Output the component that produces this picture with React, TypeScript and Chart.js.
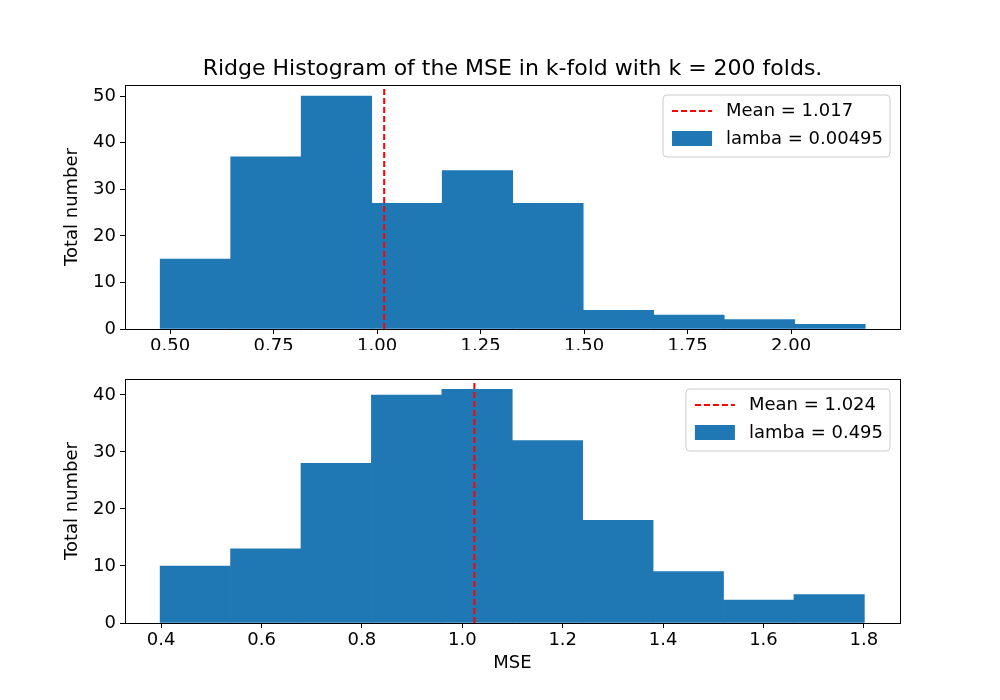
import { useEffect, useRef } from 'react';
import { Chart, registerables } from 'chart.js';

Chart.register(...registerables);

// top panel: lambda = 0.00495
const topEdgeStart = 0.476;
const topBinWidth = 0.1703;
const topCounts = [15, 37, 50, 27, 34, 27, 4, 3, 2, 1];
const topMean = 1.017;
const topTicksX = [0.5, 0.75, 1.0, 1.25, 1.5, 1.75, 2.0];
const topTicksY = [0, 10, 20, 30, 40, 50];

// bottom panel: lambda = 0.495
const botEdgeStart = 0.398;
const botBinWidth = 0.1403;
const botCounts = [10, 13, 28, 40, 41, 32, 18, 9, 4, 5];
const botMean = 1.024;
const botTicksX = [0.4, 0.6, 0.8, 1.0, 1.2, 1.4, 1.6, 1.8];
const botTicksY = [0, 10, 20, 30, 40];

const FONT = 'DejaVu Sans';
const BLUE = '#1f77b4';

interface PanelProps {
  top: number;
  edgeStart: number;
  binWidth: number;
  counts: number[];
  mean: number;
  ticksX: number[];
  ticksY: number[];
  xMin: number;
  xMax: number;
  yMax: number;
  decimals: number;
  meanLabel: string;
  barLabel: string;
  title?: string;
  xTitle?: string;
}

const Panel: React.FC<PanelProps> = (p) => {
  const canvasRef = useRef<HTMLCanvasElement>(null);
  const chartRef = useRef<Chart | null>(null);

  useEffect(() => {
    if (!canvasRef.current) return;
    if (chartRef.current) chartRef.current.destroy();

    const bars = p.counts.map((c, i) => ({ x: p.edgeStart + (i + 0.5) * p.binWidth, y: c }));

    const framePlugin = {
      id: 'frame',
      afterDraw(chart: Chart) {
        const { ctx, chartArea: a } = chart;
        ctx.save();
        ctx.strokeStyle = '#000';
        ctx.lineWidth = 1;
        ctx.strokeRect(a.left + 0.5, a.top + 0.5, a.right - a.left, a.bottom - a.top);
        if (p.title) {
          ctx.fillStyle = '#000';
          ctx.font = `22px "${FONT}"`;
          ctx.textAlign = 'center';
          ctx.textBaseline = 'alphabetic';
          ctx.fillText(p.title, (a.left + a.right) / 2, a.top - 10);
        }
        // legend
        ctx.font = `18px "${FONT}"`;
        const tw = Math.max(ctx.measureText(p.meanLabel).width, ctx.measureText(p.barLabel).width);
        const w = tw + 70;
        const h = 62;
        const x0 = a.right - 10 - w;
        const y0 = a.top + 10;
        ctx.fillStyle = 'rgba(255,255,255,0.8)';
        ctx.strokeStyle = '#ccc';
        ctx.beginPath();
        ctx.roundRect(x0, y0, w, h, 4);
        ctx.fill();
        ctx.stroke();
        ctx.strokeStyle = 'red';
        ctx.lineWidth = 2;
        ctx.setLineDash([6, 3]);
        ctx.beginPath();
        ctx.moveTo(x0 + 9, y0 + 16);
        ctx.lineTo(x0 + 49, y0 + 16);
        ctx.stroke();
        ctx.setLineDash([]);
        ctx.fillStyle = BLUE;
        ctx.fillRect(x0 + 9, y0 + 36, 40, 15);
        ctx.fillStyle = '#000';
        ctx.textAlign = 'left';
        ctx.textBaseline = 'middle';
        ctx.fillText(p.meanLabel, x0 + 63, y0 + 16);
        ctx.fillText(p.barLabel, x0 + 63, y0 + 44);
        ctx.restore();
      },
    };

    chartRef.current = new Chart(canvasRef.current, {
      type: 'bar',
      data: {
        datasets: [
          {
            type: 'line',
            data: [{ x: p.mean, y: 0 }, { x: p.mean, y: p.yMax }],
            borderColor: 'red',
            borderWidth: 2,
            borderDash: [6, 3],
            pointRadius: 0,
            order: 0,
          },
          {
            type: 'bar',
            data: bars,
            backgroundColor: BLUE,
            barPercentage: 1,
            categoryPercentage: 1,
            borderWidth: 0,
            order: 1,
          },
        ],
      },
      plugins: [framePlugin],
      options: {
        responsive: false,
        animation: false,
        layout: { padding: { left: 62, right: 100, top: p.title ? 85 : 29, bottom: p.xTitle ? 24 : 0 } },
        plugins: { legend: { display: false }, tooltip: { enabled: false } },
        scales: {
          x: {
            type: 'linear',
            offset: false,
            min: p.xMin,
            max: p.xMax,
            afterBuildTicks: (s: any) => { s.ticks = p.ticksX.map((v) => ({ value: v })); },
            afterFit: (s: any) => { s.height = p.xTitle ? 53 : 21; },
            grid: { offset: false, drawOnChartArea: false, color: '#000', tickLength: 5, tickColor: '#000' },
            border: { color: '#000' },
            ticks: {
              color: '#000',
              font: { family: FONT, size: 18 },
              padding: 2,
              maxRotation: 0,
              autoSkip: false,
              callback: (v: any) => Number(v).toFixed(p.decimals),
            },
            title: { display: !!p.xTitle, text: p.xTitle || '', color: '#000', font: { family: FONT, size: 18 }, padding: 2 },
          },
          y: {
            min: 0,
            max: p.yMax,
            afterBuildTicks: (s: any) => { s.ticks = p.ticksY.map((v) => ({ value: v })); },
            afterFit: (s: any) => { s.width = 63; },
            grid: { drawOnChartArea: false, color: '#000', tickLength: 5, tickColor: '#000' },
            border: { color: '#000' },
            ticks: { color: '#000', font: { family: FONT, size: 18 }, padding: 4 },
            title: { display: true, text: 'Total number', color: '#000', font: { family: FONT, size: 18 }, padding: 0 },
          },
        },
      },
    });

    return () => {
      if (chartRef.current) chartRef.current.destroy();
    };
  }, []);

  return (
    <div style={{ position: 'absolute', left: 0, top: p.top, width: 1000, height: 350 }}>
      <canvas ref={canvasRef} width={1000} height={350} style={{ width: 1000, height: 350 }} />
    </div>
  );
};

export default function App() {
  return (
    <div style={{ position: 'fixed', left: 0, top: 0, width: 1000, height: 700, background: '#fff' }}>
      <Panel
        top={0}
        edgeStart={topEdgeStart}
        binWidth={topBinWidth}
        counts={topCounts}
        mean={topMean}
        ticksX={topTicksX}
        ticksY={topTicksY}
        xMin={0.391}
        xMax={2.263}
        yMax={52.4}
        decimals={2}
        meanLabel="Mean = 1.017"
        barLabel="lamba = 0.00495"
        title="Ridge Histogram of the MSE in k-fold with k = 200 folds."
      />
      <Panel
        top={350}
        edgeStart={botEdgeStart}
        binWidth={botBinWidth}
        counts={botCounts}
        mean={botMean}
        ticksX={botTicksX}
        ticksY={botTicksY}
        xMin={0.328}
        xMax={1.872}
        yMax={42.8}
        decimals={1}
        meanLabel="Mean = 1.024"
        barLabel="lamba = 0.495"
        xTitle="MSE"
      />
    </div>
  );
}
